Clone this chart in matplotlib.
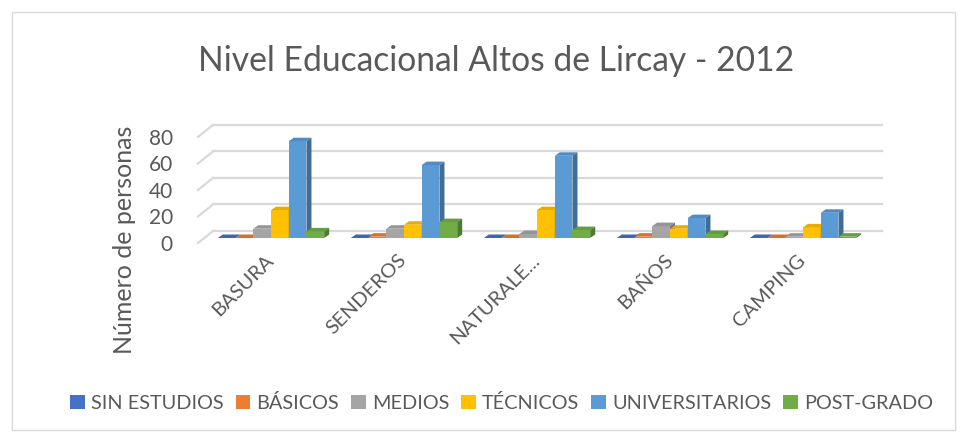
import numpy as np
import matplotlib.pyplot as plt
import matplotlib.transforms as mtransforms
from matplotlib.patches import Polygon, Rectangle, Patch
from matplotlib.colors import to_rgb

# datos
categorias = ['BASURA', 'SENDEROS', 'NATURALE...', 'BAÑOS', 'CAMPING']
series = ['SIN ESTUDIOS', 'BÁSICOS', 'MEDIOS', 'TÉCNICOS', 'UNIVERSITARIOS', 'POST-GRADO']
sin_estudios = [0, 0, 0, 0, 0]
basicos = [0, 1, 0, 1, 0]
medios = [7, 7, 3, 9, 1]
tecnicos = [21, 10, 21, 7, 8]
universitarios = [73, 55, 62, 15, 19]
post_grado = [5, 12, 6, 3, 1]
colores = ['#4472C4', '#ED7D31', '#A5A5A5', '#FFC000', '#5B9BD5', '#70AD47']
valores = [sin_estudios, basicos, medios, tecnicos, universitarios, post_grado]

plt.rcParams['font.family'] = ['Lato', 'DejaVu Sans']
texto = '#595959'

W, H = 970, 442
fig = plt.figure(figsize=(W / 100, H / 100), dpi=100)

# borde del area del grafico
fig.patches.append(Rectangle((12 / W, 12 / H), 943 / W, 418 / H, transform=fig.transFigure,
                             fill=False, edgecolor='#d9d9d9', linewidth=1))

# ejes: posicion en pixeles -> fraccion de figura
px_left, px_right, px_top, px_bottom = 198, 882, 125, 243
ax = fig.add_axes([px_left / W, 1 - px_bottom / H, (px_right - px_left) / W, (px_bottom - px_top) / H])

x0 = (px_left - 271) / 133.0
x1 = (px_right - 271) / 133.0
ymax = 89.0
ax.set_xlim(x0, x1)
ax.set_ylim(0, ymax)
sx = (px_right - px_left) / (x1 - x0)      # px por unidad x
sy = (px_bottom - px_top) / ymax           # px por unidad y

# profundidad (en pixeles, pasada a unidades de datos)
wall_dx, wall_dy = 15 / sx, 12 / sy
front_dx, front_dy = 0, 5 / sy
bar_dx, bar_dy = 5 / sx, 3.5 / sy

grid_c = '#d9d9d9'
ticks = [0, 20, 40, 60, 80]
for t in ticks:
    ax.plot([x0, x0 + wall_dx], [t, t + wall_dy], color=grid_c, lw=1.6, zorder=1, clip_on=False)
    ax.plot([x0 + wall_dx, x1], [t + wall_dy, t + wall_dy], color=grid_c, lw=1.6, zorder=1, clip_on=False)


def shade(c, f):
    r, g, b = to_rgb(c)
    return (r * f, g * f, b * f)


n = len(series)
ancho = 0.8 / n
xc = np.arange(len(categorias))
z = 2
for i in range(len(categorias)):
    for j in range(n):
        v = valores[j][i]
        left = xc[i] - 0.4 + j * ancho + front_dx
        base = front_dy
        c = colores[j]
        ax.bar(left, v, ancho, bottom=base, align='edge', color=c, linewidth=0, zorder=z)
        top = [(left, base + v), (left + bar_dx, base + v + bar_dy),
               (left + ancho + bar_dx, base + v + bar_dy), (left + ancho, base + v)]
        ax.add_patch(Polygon(top, closed=True, facecolor=shade(c, 0.9), edgecolor='none', zorder=z))
        side = [(left + ancho, base), (left + ancho + bar_dx, base + bar_dy),
                (left + ancho + bar_dx, base + v + bar_dy), (left + ancho, base + v)]
        ax.add_patch(Polygon(side, closed=True, facecolor=shade(c, 0.7), edgecolor='none', zorder=z))
        z += 1

for s in ax.spines.values():
    s.set_visible(False)
ax.set_yticks(ticks)
ax.set_yticklabels([str(t) for t in ticks], fontsize=15, color=texto)
ax.tick_params(axis='y', length=0, pad=18)
ax.set_xticks(xc)
ax.set_xticklabels(categorias, rotation=45, ha='right', rotation_mode='anchor', fontsize=14.5, color=texto)
ax.tick_params(axis='x', length=0, pad=6)
desplaza = mtransforms.ScaledTranslation(-6 / 100, 0, fig.dpi_scale_trans)
for lab in ax.get_xticklabels():
    lab.set_transform(lab.get_transform() + desplaza)
ax.set_ylabel('Número de personas', fontsize=18, color=texto)
ax.yaxis.set_label_coords((125 - px_left) / (px_right - px_left), (px_bottom - 240) / (px_bottom - px_top))
ax.yaxis.label.set_va('center')

fig.text(496 / W, 1 - 61 / H, 'Nivel Educacional Altos de Lircay - 2012', ha='center', va='center',
         fontsize=24.2, color=texto)

handles = [Patch(facecolor=c, edgecolor='none') for c in colores]
fig.legend(handles, series, loc='center', bbox_to_anchor=(0.517, 1 - 403 / H), ncol=6, frameon=False,
           fontsize=14.3, handlelength=0.75, handleheight=0.75, handletextpad=0.3, columnspacing=0.6,
           labelcolor=texto)

fig.savefig('out.png', dpi=100)
